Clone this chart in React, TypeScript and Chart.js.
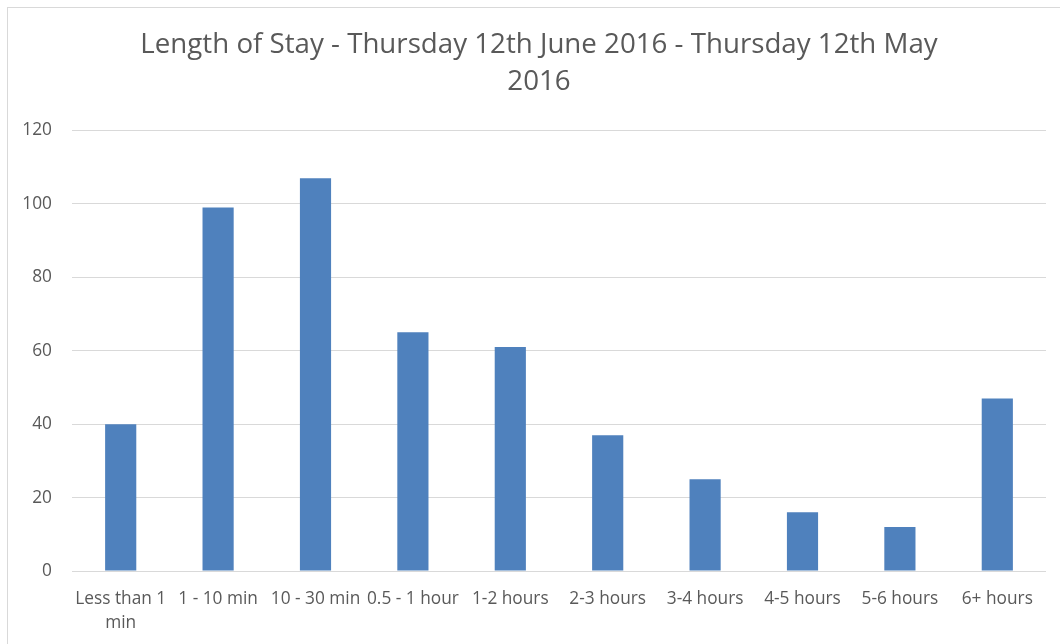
import React, { useEffect, useRef } from "react";
import { Chart, registerables } from "chart.js";

Chart.register(...registerables);

const categories: (string | string[])[] = [
  ["Less than 1", "min"],
  "1 - 10 min",
  "10 - 30 min",
  "0.5 - 1 hour",
  "1-2 hours",
  "2-3 hours",
  "3-4 hours",
  "4-5 hours",
  "5-6 hours",
  "6+ hours",
];
const values: number[] = [40, 99, 107, 65, 61, 37, 25, 16, 12, 47];
const titleLines: string[] = [
  "Length of Stay - Thursday 12th June 2016 - Thursday 12th May",
  "2016",
];
const yMin = 0;
const yMax = 120;
const yStep = 20;

const FONT = "'Open Sans', sans-serif";
const TEXT = "#595959";
const GRID = "#D9D9D9";
const BAR = "#4F81BD";

// Title in the reference is centred on the whole chart box, slightly right of the canvas centre.
const titleShift = {
  id: "titleShift",
  afterLayout(chart: any) {
    const t = chart.titleBlock;
    if (t) t.left += 24;
  },
};

export default function App() {
  const ref = useRef<HTMLCanvasElement | null>(null);
  useEffect(() => {
    if (!ref.current) return;
    const chart = new Chart(ref.current, {
      type: "bar",
      data: {
        labels: categories,
        datasets: [
          {
            data: values,
            backgroundColor: BAR,
            borderWidth: 0,
            categoryPercentage: 1,
            barPercentage: 0.32,
          },
        ],
      },
      plugins: [titleShift],
      options: {
        animation: false,
        responsive: false,
        maintainAspectRatio: false,
        layout: { padding: { left: 0, right: 14, top: 0, bottom: 0 } },
        plugins: {
          legend: { display: false },
          tooltip: { enabled: false },
          title: {
            display: true,
            text: titleLines,
            color: TEXT,
            font: { family: FONT, size: 27.7, weight: "normal", lineHeight: 1.335 },
            padding: { top: 18.5, bottom: 30 },
          },
        },
        scales: {
          x: {
            grid: { display: false },
            border: { display: false },
            ticks: {
              color: TEXT,
              font: { family: FONT, size: 17.3, lineHeight: 1.39 },
              padding: 8,
              maxRotation: 0,
              minRotation: 0,
              autoSkip: false,
            },
            afterFit: (axis: any) => {
              axis.height = 73;
            },
          },
          y: {
            min: yMin,
            max: yMax,
            grid: { color: GRID, lineWidth: 1, drawTicks: false },
            border: { display: false },
            ticks: {
              stepSize: yStep,
              color: TEXT,
              font: { family: FONT, size: 17.3 },
              padding: 20,
            },
            afterFit: (axis: any) => {
              axis.width = 64;
            },
          },
        },
      },
    });
    return () => chart.destroy();
  }, []);
  return (
    <div>
      <div
        style={{
          position: "fixed",
          left: 7,
          top: 7,
          width: 1100,
          height: 700,
          border: `1px solid ${GRID}`,
          background: "#fff",
        }}
      />
      <canvas
        ref={ref}
        width={1052}
        height={636}
        style={{ position: "fixed", left: 8, top: 8, width: 1052, height: 636 }}
      />
    </div>
  );
}
